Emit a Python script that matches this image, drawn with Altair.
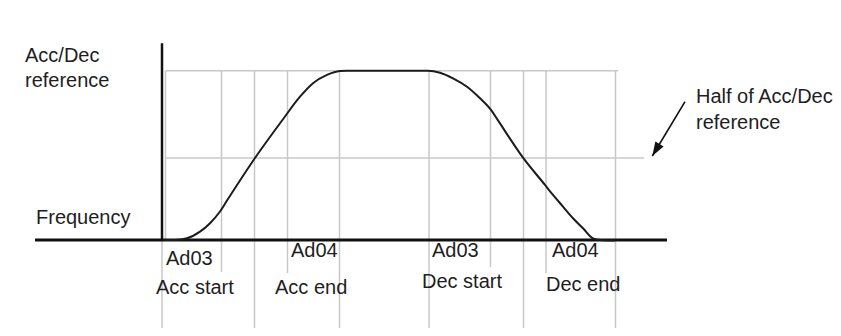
import altair as alt
import pandas as pd

# S-curve (time units, value in % of Acc/Dec reference)
curve_t = [0.4, 2.6, 5.0, 7.6, 9.6, 11.6, 13.2, 18.6, 24.2, 27.6, 30.2, 33.0, 35.6, 37.0,
           53.2, 55.6, 58.2, 61.0, 63.6, 65.8, 67.2, 72.2, 76.6, 78.2, 80.2, 82.2, 84.2, 86.2, 87.6, 90.6]
curve_v = [0, 0, 1.0, 4.9, 9.9, 16.8, 24.2, 48.4, 71.3, 84.6, 92.6, 97.5, 99.8, 100,
           100, 98.8, 95.5, 90.5, 83.7, 76.8, 70.6, 48.6, 32.5, 26.6, 19.7, 12.8, 6.9, 0.9, 0, -0.3]

# vertical grid lines
grid_t = [0.0, 0.7, 11.9, 18.5, 25.1, 35.5, 53.4, 65.7, 72.3, 76.8, 90.7]
grid_top = [0, 100, 100, 100, 100, 100, 100, 100, 100, 100, 100]
grid_bottom = [-52, 0, -19, -52, -19.5, -52, -52, -16, -52, -19.5, -52]

# horizontal reference lines
hgrid_v = [100, 48.4]
hgrid_t1 = [0.7, 0.7]
hgrid_t2 = [91.2, 96.4]

# axes (black)
axis_t1 = [0.0, -25.4]
axis_t2 = [0.0, 101.0]
axis_v1 = [116.2, 0]
axis_v2 = [0, 0]
axis_w = [2.5, 3]

# labels
label_text = ["Acc/Dec", "reference", "Frequency", "Ad03", "Acc start", "Ad04", "Acc end",
              "Ad03", "Dec start", "Ad04", "Dec end", "Half of Acc/Dec", "reference"]
label_t = [-27.4, -27.4, -25.2, 0.8, -1.2, 25.8, 22.6, 54.0, 52.0, 78.0, 76.8, 106.8, 106.8]
label_v = [105.1, 90.4, 9.5, -14.5, -31.9, -9.9, -31.9, -9.9, -28.5, -9.9, -29.9, 80.8, 65.4]

# arrow
arrow_t1, arrow_v1 = [104.6], [81.7]
arrow_t2, arrow_v2 = [98.06], [49.6]

xs = alt.Scale(domain=[-30.8, 134.2], nice=False, zero=False)
ys = alt.Scale(domain=[-52, 137], nice=False, zero=False)

grid_df = pd.DataFrame({"t": grid_t, "top": grid_top, "bottom": grid_bottom})
grid = alt.Chart(grid_df).mark_rule(color="#c8c8c8", strokeWidth=1.5).encode(
    x=alt.X("t:Q", scale=xs, axis=None),
    y=alt.Y("top:Q", scale=ys, axis=None),
    y2="bottom:Q",
)

hgrid_df = pd.DataFrame({"v": hgrid_v, "t1": hgrid_t1, "t2": hgrid_t2})
hgrid = alt.Chart(hgrid_df).mark_rule(color="#c8c8c8", strokeWidth=1.5).encode(
    x=alt.X("t1:Q", scale=xs, axis=None),
    x2="t2:Q",
    y=alt.Y("v:Q", scale=ys, axis=None),
)

axis_df = pd.DataFrame({"t1": axis_t1, "t2": axis_t2, "v1": axis_v1, "v2": axis_v2, "w": axis_w})
axes = alt.Chart(axis_df).mark_rule(color="#111111").encode(
    x=alt.X("t1:Q", scale=xs, axis=None),
    x2="t2:Q",
    y=alt.Y("v1:Q", scale=ys, axis=None),
    y2="v2:Q",
    strokeWidth=alt.StrokeWidth("w:Q", scale=None),
)

curve_df = pd.DataFrame({"t": curve_t, "v": curve_v})
curve = alt.Chart(curve_df).mark_line(color="#1c1c1c", strokeWidth=2, interpolate="monotone").encode(
    x=alt.X("t:Q", scale=xs, axis=None),
    y=alt.Y("v:Q", scale=ys, axis=None),
)

label_df = pd.DataFrame({"text": label_text, "t": label_t, "v": label_v})
labels = alt.Chart(label_df).mark_text(
    align="left", baseline="alphabetic", font="Liberation Sans", fontSize=20, color="#1e1e1e"
).encode(
    x=alt.X("t:Q", scale=xs, axis=None),
    y=alt.Y("v:Q", scale=ys, axis=None),
    text="text:N",
)

arrow_df = pd.DataFrame({"t1": arrow_t1, "v1": arrow_v1, "t2": arrow_t2, "v2": arrow_v2})
arrow_line = alt.Chart(arrow_df).mark_rule(color="#111111", strokeWidth=1.6).encode(
    x=alt.X("t1:Q", scale=xs, axis=None),
    y=alt.Y("v1:Q", scale=ys, axis=None),
    x2="t2:Q",
    y2="v2:Q",
)
arrow_head = alt.Chart(arrow_df).mark_point(
    shape="M0,0 L-0.45,-1.3 L0.45,-1.3 Z", filled=True, color="#111111", opacity=1,
    size=460, angle=31, strokeWidth=0
).encode(
    x=alt.X("t2:Q", scale=xs, axis=None),
    y=alt.Y("v2:Q", scale=ys, axis=None),
)

chart = alt.layer(grid, hgrid, axes, curve, arrow_line, arrow_head, labels).properties(
    width=825, height=320, padding=0, autosize="none", background="white"
).configure_view(stroke=None)

chart.save("out.html", embed_options={"renderer": "svg", "actions": False})
